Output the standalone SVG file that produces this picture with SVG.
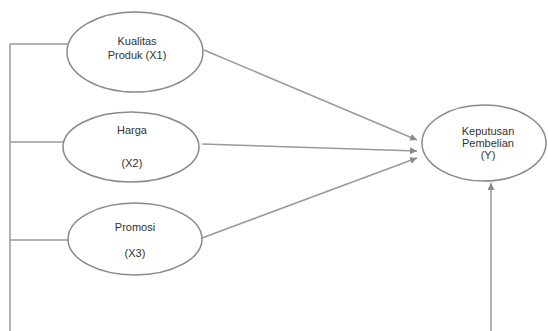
<svg xmlns="http://www.w3.org/2000/svg" width="548" height="331" viewBox="0 0 548 331">
<style>
.node ellipse{fill:#fff;stroke:#8a8a8a;stroke-width:1.5}
.node text{font-family:"Liberation Sans",Arial,sans-serif;font-size:11px;fill:#333;text-anchor:middle}
.conn line,.conn polyline{stroke:#9a9a9a;stroke-width:1.5;fill:none}
.arr{marker-end:url(#ah)}
</style>
<defs>
<marker id="ah" viewBox="0 0 10 10" refX="10" refY="5" markerWidth="7" markerHeight="7" markerUnits="userSpaceOnUse" orient="auto">
<path d="M0,0L10,5L0,10z" fill="#8a8a8a"/>
</marker>
</defs>
<rect width="548" height="331" fill="#fff"/>
<g id="connectors" class="conn">
<line x1="10" y1="44" x2="10" y2="331"/>
<line x1="10" y1="44" x2="68" y2="44"/>
<line x1="10" y1="142" x2="64" y2="142"/>
<line x1="10" y1="240" x2="68" y2="240"/>
<line class="arr" x1="204" y1="50" x2="417" y2="140"/>
<line class="arr" x1="202" y1="144" x2="417" y2="151"/>
<line class="arr" x1="202" y1="238" x2="417" y2="158"/>
<line class="arr" x1="491" y1="331" x2="491" y2="183"/>
</g>
<g id="node-x1" class="node">
<ellipse cx="135" cy="52" rx="68" ry="40"/>
<text x="137" y="45">Kualitas</text>
<text x="137" y="59">Produk (X1)</text>
</g>
<g id="node-x2" class="node">
<ellipse cx="131" cy="147" rx="68" ry="35"/>
<text x="132" y="134">Harga</text>
<text x="132" y="167">(X2)</text>
</g>
<g id="node-x3" class="node">
<ellipse cx="135" cy="239" rx="67" ry="36"/>
<text x="135" y="231">Promosi</text>
<text x="135" y="257">(X3)</text>
</g>
<g id="node-y" class="node">
<ellipse cx="484" cy="143" rx="62" ry="38"/>
<text x="488" y="135">Keputusan</text>
<text x="488" y="147">Pembelian</text>
<text x="488" y="159">(Y)</text>
</g>
</svg>
